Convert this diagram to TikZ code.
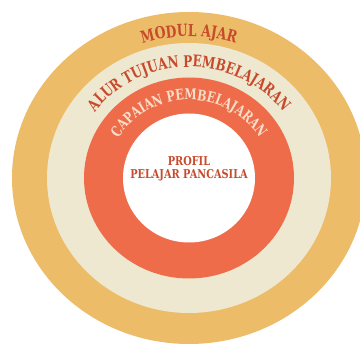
\documentclass[tikz,border=0pt]{standalone}
\usepackage{fontspec}
\setmainfont{DejaVu Serif}
\newfontfamily\ringfont[FakeStretch=0.75]{DejaVu Serif}
\newfontfamily\centerfont[FakeStretch=0.8]{DejaVu Serif}
\usetikzlibrary{decorations.text,shapes.geometric}
\definecolor{gold}{HTML}{ECBC68}
\definecolor{cream}{HTML}{EFE8D0}
\definecolor{coral}{HTML}{EE6C4A}
\definecolor{textred}{HTML}{C64A2C}
\definecolor{textlight}{HTML}{F6DEC8}
\tikzset{
  ring/.style={ellipse, draw=none, inner sep=0pt, outer sep=0pt},
  ringtext/.style={decorate, decoration={text along path, text align=center, text={#1}}}
}
\begin{document}
\begin{tikzpicture}[x=1pt,y=1pt]
\useasboundingbox (0,0) rectangle (360,348);
\clip (0,0) rectangle (360,348);
\coordinate (c) at (189,170);
\node[ring, fill=gold, minimum width=354pt, minimum height=332pt] (modul) at (c) {};
\node[ring, fill=cream, minimum width=284pt, minimum height=270pt] (alur) at (c) {};
\node[ring, fill=coral, minimum width=210pt, minimum height=201pt] (capaian) at (c) {};
\node[ring, fill=white, minimum width=132pt, minimum height=129pt] (profil) at (c) {};
\path[ringtext={|\ringfont\bfseries\fontsize{16.5}{16.5}\selectfont\color{textred}|MODUL AJAR}]
  ([shift={(180:150 and 141.5)}]c) arc[start angle=180, end angle=0, x radius=150, y radius=141.5];
\path[ringtext={|\ringfont\bfseries\fontsize{16}{16}\selectfont\color{textred}|ALUR TUJUAN PEMBELAJARAN}]
  ([shift={(180:117 and 111)}]c) arc[start angle=180, end angle=0, x radius=117, y radius=111];
\path[ringtext={|\ringfont\bfseries\fontsize{14.8}{14.8}\selectfont\color{textlight}|CAPAIAN PEMBELAJARAN}]
  ([shift={(180:82 and 78)}]c) arc[start angle=180, end angle=0, x radius=82, y radius=78];
\node[align=center, text=textred, font=\centerfont\bfseries\fontsize{12.2}{13}\selectfont] (profiltext) at ([yshift=9.5pt]c) {PROFIL\\PELAJAR PANCASILA};
\end{tikzpicture}
\end{document}
